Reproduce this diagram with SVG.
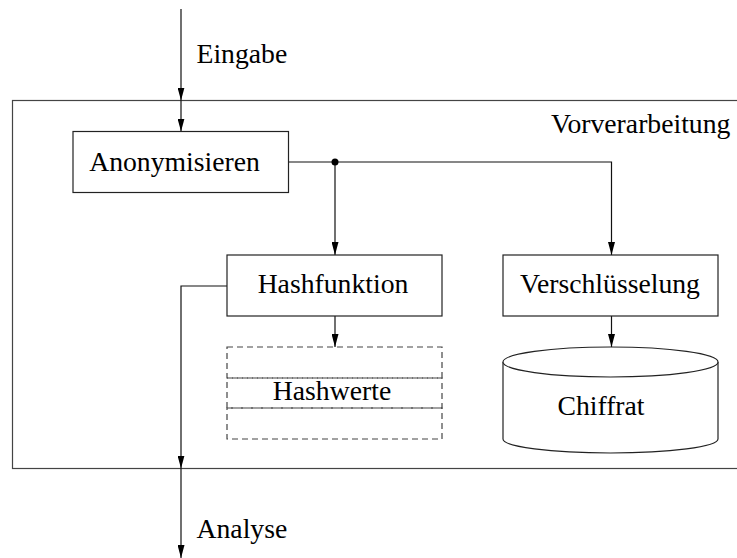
<svg xmlns="http://www.w3.org/2000/svg" width="737" height="558" viewBox="0 0 737 558">
<defs>
<style>
text{font-family:"Liberation Serif","Times New Roman",serif;font-size:27.7px;fill:#000}
.box{fill:#fff;stroke:#222;stroke-width:1.2}
.dash{fill:none;stroke:#444;stroke-width:1.2;stroke-dasharray:6,4}
.edge{fill:none;stroke:#111;stroke-width:1.2}
.frame{fill:none;stroke:#444;stroke-width:1.2}
</style>
<marker id="arr" markerWidth="13" markerHeight="7" refX="13" refY="3.5" orient="auto" markerUnits="userSpaceOnUse">
<path d="M0,0 L13,3.5 L0,7 z" fill="#000"/>
</marker>
</defs>
<rect width="737" height="558" fill="#fff"/>
<g id="vorverarbeitung">
<rect class="frame" x="12.5" y="100.5" width="740" height="368"/>
<text x="551" y="133">Vorverarbeitung</text>
</g>
<g id="connectors">
<line class="edge" x1="181" y1="9" x2="181" y2="100.5" marker-end="url(#arr)"/>
<line class="edge" x1="181" y1="100.5" x2="181" y2="131.5" marker-end="url(#arr)"/>
<polyline class="edge" points="288.5,162 611.5,162 611.5,255" marker-end="url(#arr)"/>
<line class="edge" x1="335" y1="162" x2="335" y2="255" marker-end="url(#arr)"/>
<circle cx="335" cy="162" r="3.5" fill="#000"/>
<line class="edge" x1="335" y1="316" x2="335" y2="347" marker-end="url(#arr)"/>
<line class="edge" x1="611.5" y1="316" x2="611.5" y2="347" marker-end="url(#arr)"/>
<polyline class="edge" points="227,286 181,286 181,468.5" marker-end="url(#arr)"/>
<line class="edge" x1="181" y1="468.5" x2="181" y2="558" marker-end="url(#arr)"/>
<text x="196.5" y="63">Eingabe</text>
<text x="196.5" y="538">Analyse</text>
</g>
<g id="anonymisieren">
<rect class="box" x="73" y="131.5" width="215.5" height="61"/>
<text x="174.5" y="171" text-anchor="middle">Anonymisieren</text>
</g>
<g id="hashfunktion">
<rect class="box" x="227" y="255" width="215" height="61"/>
<text x="333" y="293" text-anchor="middle">Hashfunktion</text>
</g>
<g id="verschluesselung">
<rect class="box" x="503" y="255" width="215" height="61"/>
<text x="610" y="293" text-anchor="middle">Verschlüsselung</text>
</g>
<g id="hashwerte">
<rect class="dash" x="227" y="347" width="215" height="31"/>
<rect class="dash" x="227" y="378" width="215" height="30"/>
<rect class="dash" x="227" y="408" width="215" height="31"/>
<text x="332" y="400" text-anchor="middle">Hashwerte</text>
</g>
<g id="chiffrat">
<path class="box" d="M503,362 L503,439 A107.5,14 0 0,0 718,439 L718,362"/>
<ellipse class="box" cx="610.5" cy="362" rx="107.5" ry="15"/>
<text x="601" y="415" text-anchor="middle">Chiffrat</text>
</g>
</svg>
